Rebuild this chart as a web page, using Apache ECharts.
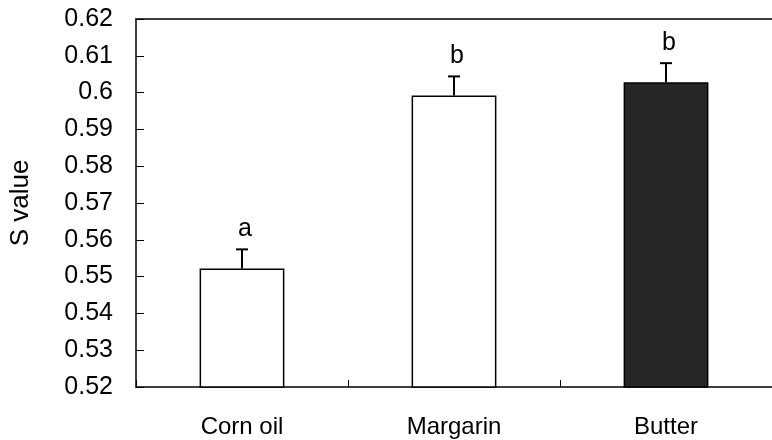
<!DOCTYPE html>
<html>
<head>
<meta charset="utf-8">
<script src="https://cdn.jsdelivr.net/npm/echarts@6/dist/echarts.min.js"></script>
<style>
  html, body { margin: 0; padding: 0; background: #fff; }
  #chart { width: 772px; height: 440px; }
</style>
</head>
<body>
<div id="chart"></div>
<script>
// data
const categories = ['Corn oil', 'Margarin', 'Butter'];
const sValues = [0.5522, 0.5992, 0.6028];
const sErrors = [0.0052, 0.0052, 0.0052];
const groupLetters = ['a', 'b', 'b'];
const barFills = ['#ffffff', '#ffffff', '#262626'];

const font = 'Liberation Sans, Arial, sans-serif';

const chart = echarts.init(document.getElementById('chart'), null, { renderer: 'canvas' });

chart.setOption({
  animation: false,
  backgroundColor: '#fff',
  grid: { left: 134, top: 19, bottom: 53, right: -5 },
  xAxis: [
    {
      type: 'category',
      data: categories,
      boundaryGap: true,
      axisLine: { lineStyle: { color: '#000', width: 1.5 } },
      axisTick: { show: true, inside: true, length: 7, alignWithLabel: false, lineStyle: { color: '#000', width: 1 } },
      axisLabel: { color: '#000', fontFamily: font, fontSize: 24, margin: 28, interval: 0 }
    },
    {
      type: 'category',
      position: 'top',
      data: categories,
      axisLine: { lineStyle: { color: '#000', width: 1.5 } },
      axisTick: { show: false },
      axisLabel: { show: false }
    }
  ],
  yAxis: {
    type: 'value',
    min: 0.52,
    max: 0.62,
    interval: 0.01,
    name: 'S value',
    nameLocation: 'middle',
    nameGap: 102,
    nameTextStyle: { color: '#000', fontFamily: font, fontSize: 26 },
    axisLine: { show: true, lineStyle: { color: '#000', width: 1.5 } },
    axisTick: { show: true, inside: true, length: 8, lineStyle: { color: '#000', width: 1 } },
    axisLabel: {
      color: '#000', fontFamily: font, fontSize: 25, margin: 23,
      formatter: v => String(Number(v.toFixed(2)))
    },
    splitLine: { show: false }
  },
  series: [
    {
      type: 'bar',
      barWidth: '40%',
      data: sValues.map((v, i) => ({
        value: v,
        itemStyle: { color: barFills[i], borderColor: '#000', borderWidth: 1.5 }
      }))
    },
    {
      type: 'custom',
      data: sValues.map((v, i) => [i, v, v + sErrors[i]]),
      z: 5,
      renderItem: (params, api) => {
        const base = api.coord([api.value(0), api.value(1)]);
        const top = api.coord([api.value(0), api.value(2)]);
        const half = 6;
        return {
          type: 'group',
          children: [
            {
              type: 'line',
              shape: { x1: base[0], y1: base[1], x2: top[0], y2: top[1] },
              style: { stroke: '#000', lineWidth: 2 }
            },
            {
              type: 'line',
              shape: { x1: top[0] - half, y1: top[1], x2: top[0] + half, y2: top[1] },
              style: { stroke: '#000', lineWidth: 2 }
            },
            {
              type: 'text',
              x: top[0] + 3,
              y: top[1] - 8,
              style: {
                text: groupLetters[params.dataIndex],
                fill: '#000',
                font: '25px ' + font,
                textAlign: 'center',
                textVerticalAlign: 'bottom'
              }
            }
          ]
        };
      }
    }
  ]
});
</script>
</body>
</html>
